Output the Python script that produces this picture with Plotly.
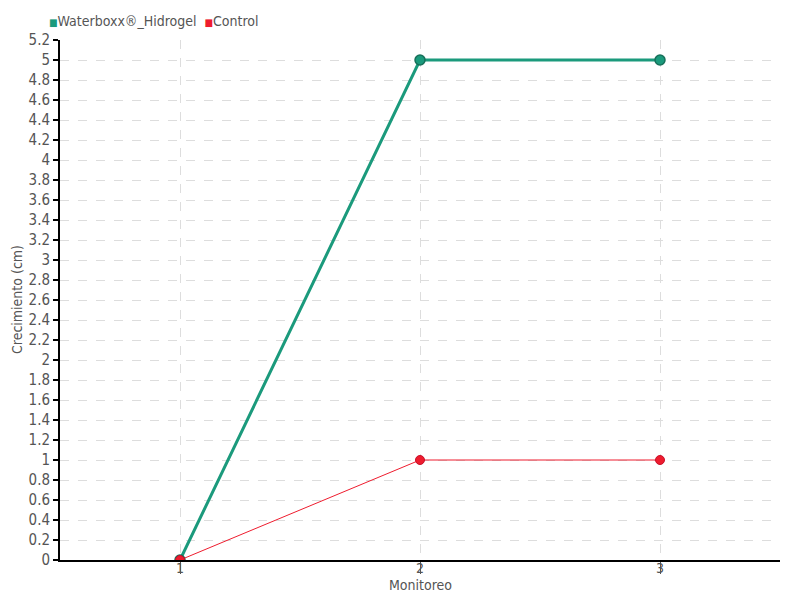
import plotly.graph_objects as go

monitoreo = ["1", "2", "3"]
waterboxx = [0, 5, 5]
control = [0, 1, 1]
series_names = ["Waterboxx®_Hidrogel", "Control"]
colors = ["#1b9a7c", "#ee1c2e"]

FONT = "DejaVu Sans Condensed, Liberation Sans Narrow, sans-serif"

fig = go.Figure()
fig.add_trace(go.Scatter(
    x=monitoreo, y=waterboxx, name=series_names[0], mode="lines+markers",
    line=dict(color=colors[0], width=3),
    marker=dict(size=10, color=colors[0], line=dict(color="#17705a", width=1.5)),
))
fig.add_trace(go.Scatter(
    x=monitoreo, y=control, name=series_names[1], mode="lines+markers",
    line=dict(color=colors[1], width=1),
    marker=dict(size=9, color=colors[1], line=dict(color="#c8102a", width=1)),
))

grid = dict(showgrid=True, gridcolor="#dddddd", griddash="dash", gridwidth=1)

legend_text = "  ".join(
    f"<span style='color:{c};font-size:10px'>■</span><span style='font-size:14px'>{n}</span>"
    for n, c in zip(series_names, colors)
)

annotations = [
    dict(text=legend_text, xref="paper", yref="paper", x=0, xshift=-13, y=1, yshift=19,
         xanchor="left", yanchor="middle", showarrow=False,
         font=dict(size=14, color="#555555")),
    dict(text="Monitoreo", xref="paper", yref="paper", x=0.5, y=0, yshift=-25,
         xanchor="center", yanchor="middle", showarrow=False,
         font=dict(size=14, color="#555555")),
    dict(text="Crecimiento (cm)", xref="paper", yref="paper", x=0, xshift=-43, y=0.5,
         xanchor="center", yanchor="middle", textangle=-90, showarrow=False,
         font=dict(size=14, color="#555555")),
]
# x tick labels placed right under the axis (over the tick mark, as in the reference)
for i, m in enumerate(monitoreo):
    annotations.append(dict(text=m, xref="x", yref="paper", x=i, y=0, yshift=-8,
                            xanchor="center", yanchor="middle", showarrow=False,
                            font=dict(size=14, color="#555555")))

fig.update_layout(
    width=800, height=600,
    margin=dict(l=60, r=20, t=40, b=40, autoexpand=False),
    plot_bgcolor="white", paper_bgcolor="white",
    font=dict(family=FONT, size=14, color="#555555"),
    showlegend=False,
    xaxis=dict(
        type="category", range=[-0.5, 2.5], automargin=False,
        showline=True, linecolor="black", linewidth=2, showticklabels=False,
        ticks="outside", tickcolor="#555555", ticklen=12, tickwidth=1,
        zeroline=False, **grid,
    ),
    yaxis=dict(
        range=[0, 5.2], dtick=0.2, tick0=0, automargin=False,
        showline=True, linecolor="black", linewidth=2,
        ticks="outside", tickcolor="black", ticklen=5, tickwidth=1.5,
        tickfont=dict(size=15),
        zeroline=False, **grid,
    ),
    annotations=annotations,
)

fig.write_html("out.html", config={"displayModeBar": False},
               post_script="document.body.style.margin='0';")
